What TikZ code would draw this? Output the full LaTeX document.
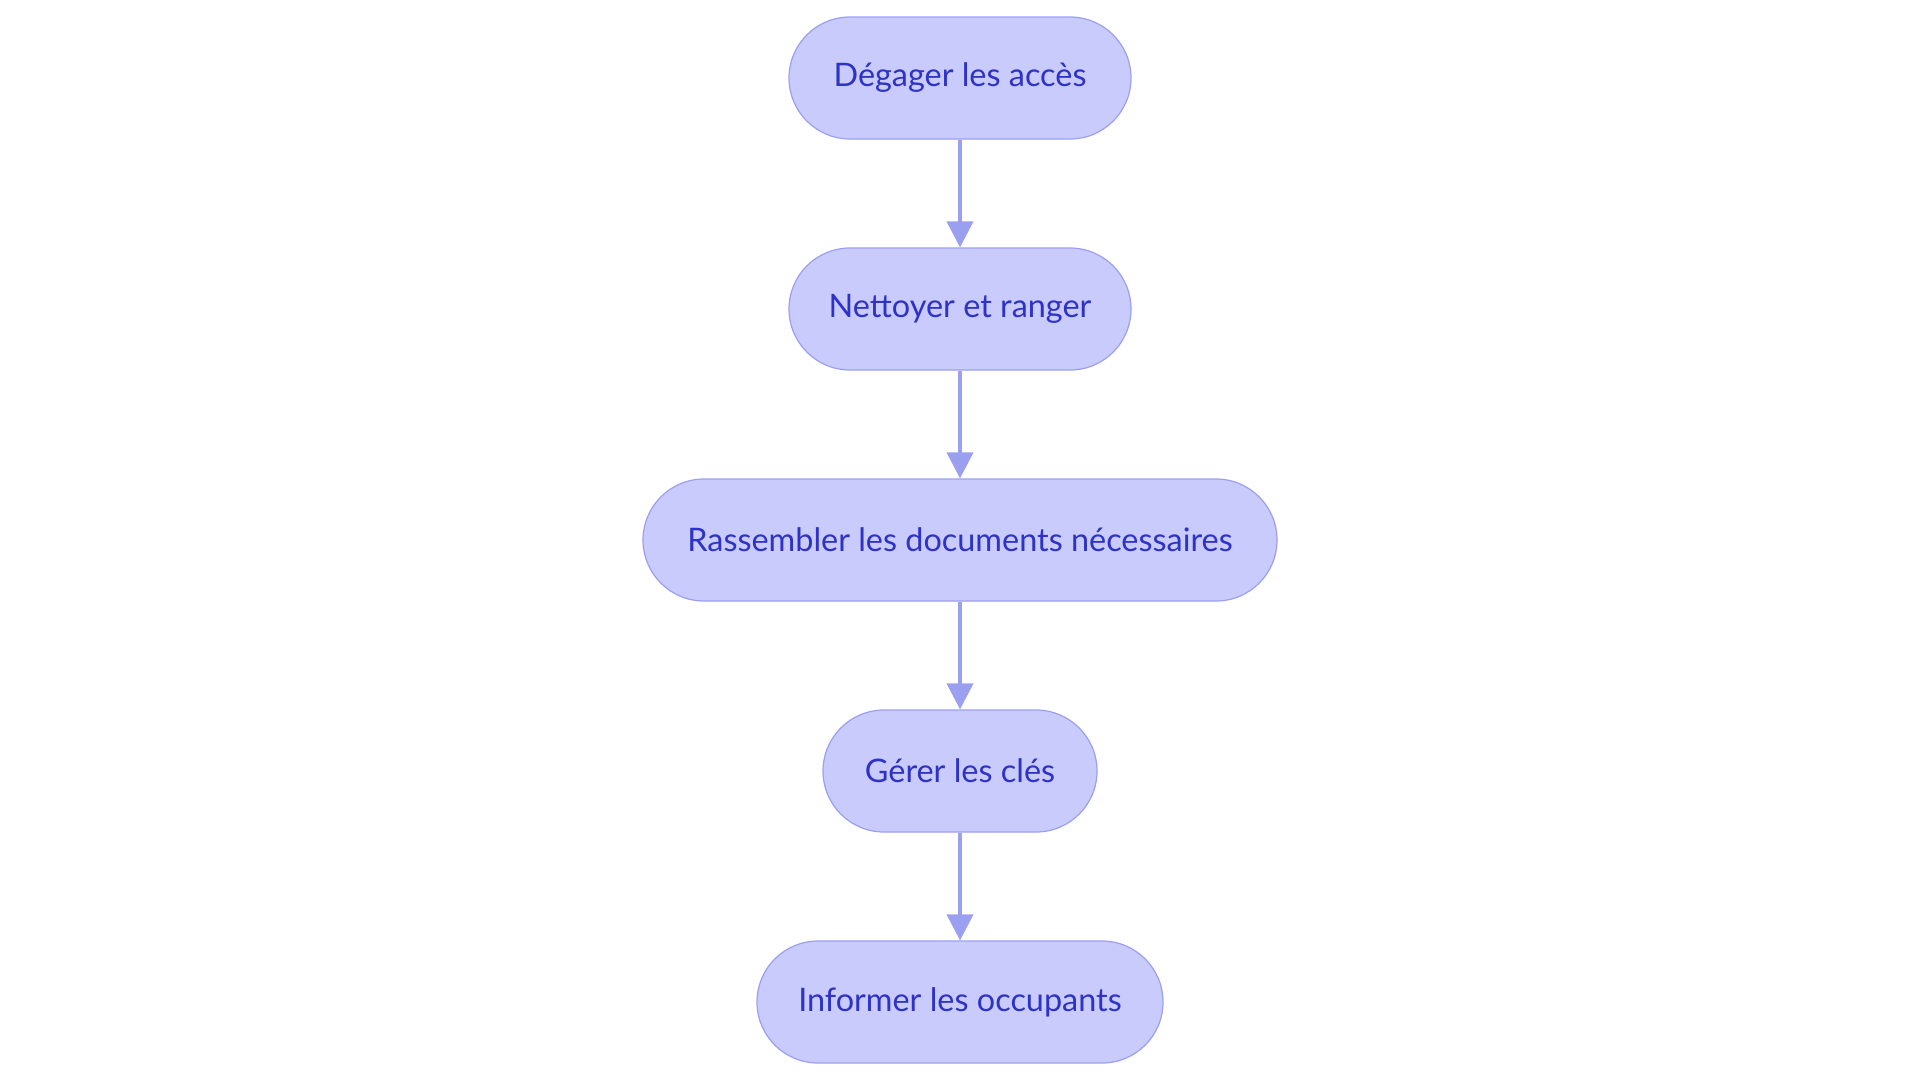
\documentclass[tikz,border=0pt]{standalone}
\usepackage{fontspec}
\setmainfont{Lato}
\usepackage{tikz}
\usetikzlibrary{arrows.meta,positioning}

\definecolor{stepfill}{HTML}{C8CBFC}
\definecolor{stepdraw}{HTML}{9A9FF0}
\definecolor{steptext}{HTML}{2E32C6}

\begin{document}
\begin{tikzpicture}[
    node distance=53.9pt,
    stepbox/.style={rectangle, rounded corners=30.5pt, draw=stepdraw, fill=stepfill,
        line width=0.6pt, minimum height=61pt, text=steptext, font=\fontsize{16.2}{19}\selectfont},
    flow/.style={-{Triangle[length=13pt,width=13pt]}, draw=stepdraw, line width=2pt}
]
\useasboundingbox (0,0) rectangle (960pt,-541.5pt);
\node[stepbox, minimum width=171pt] (acces) at (480pt,-39pt) {Dégager les accès};
\node[stepbox, minimum width=171pt] (ranger) [below=of acces] {Nettoyer et ranger};
\node[stepbox, minimum width=317pt] (docs) [below=of ranger] {Rassembler les documents nécessaires};
\node[stepbox, minimum width=137pt] (cles) [below=of docs] {Gérer les clés};
\node[stepbox, minimum width=203pt] (occup) [below=of cles] {Informer les occupants};

\draw[flow] (acces) -- (ranger);
\draw[flow] (ranger) -- (docs);
\draw[flow] (docs) -- (cles);
\draw[flow] (cles) -- (occup);
\end{tikzpicture}
\end{document}
